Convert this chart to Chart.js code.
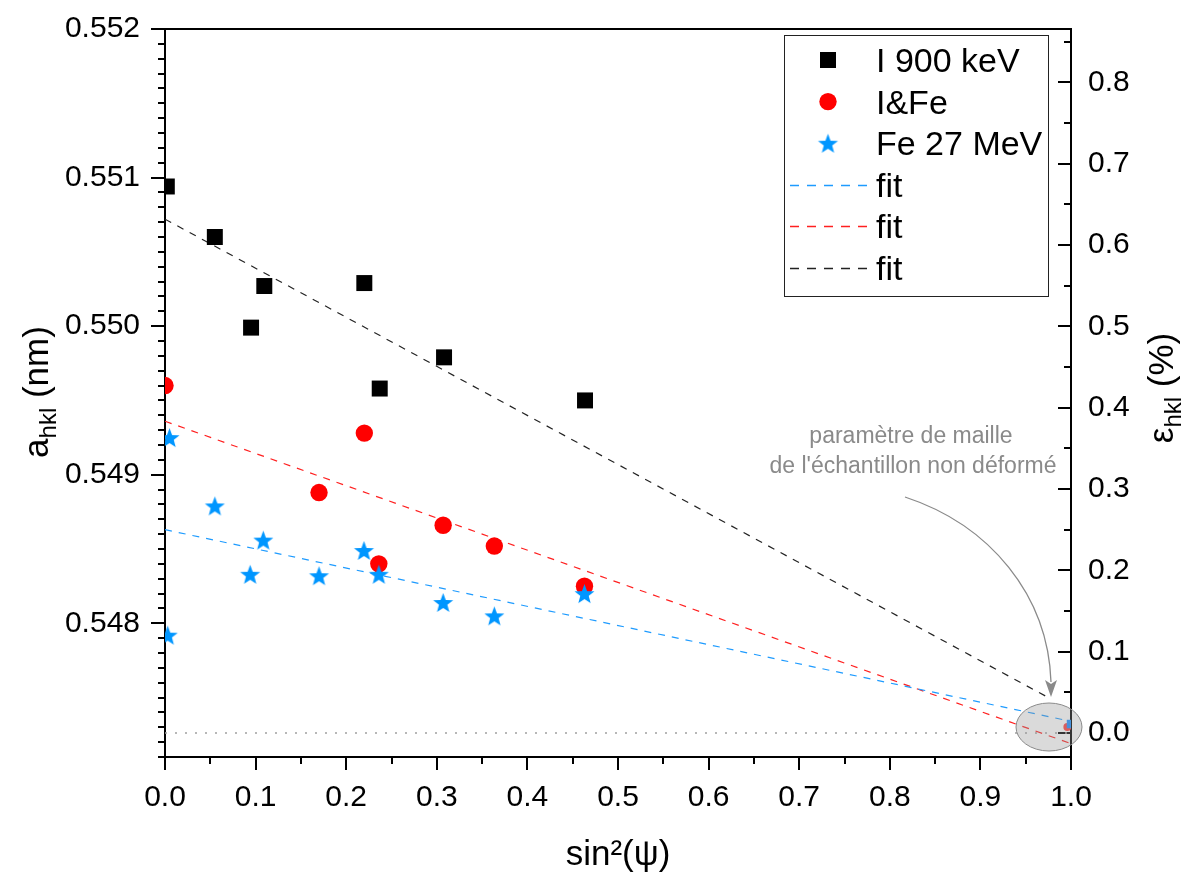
<!DOCTYPE html>
<html>
<head>
<meta charset="utf-8">
<script src="https://cdn.jsdelivr.net/npm/chart.js@4.4.0/dist/chart.umd.min.js"></script>
<style>
  html, body { margin: 0; padding: 0; background: #fff; }
  canvas { display: block; }
</style>
</head>
<body>
<canvas id="chart" width="1188" height="874"></canvas>
<script>
// donnees : sin²(psi) et a_hkl (nm)
const xI900 = [0.002, 0.055, 0.1096, 0.095, 0.22, 0.237, 0.308, 0.4636];
const aI900 = [0.55094, 0.55060, 0.55027, 0.54999, 0.55029, 0.54958, 0.54979, 0.54950];

const xIFe = [0.0, 0.22, 0.17, 0.307, 0.3635, 0.236, 0.463];
const aIFe = [0.54960, 0.54928, 0.54888, 0.54866, 0.54852, 0.54840, 0.54825];

const xFe27 = [0.005, 0.055, 0.1085, 0.094, 0.17, 0.2196, 0.236, 0.307, 0.3635, 0.463, 0.003];
const aFe27 = [0.54925, 0.54879, 0.54856, 0.54833, 0.54832, 0.54849, 0.54833, 0.54814, 0.54805, 0.54820, 0.54792];

// droites de fit (extremites)
const fitBlueX = [0, 1];
const fitBlue = [0.54863, 0.54734];
const fitRedX = [0, 1];
const fitRed = [0.54936, 0.54719];
const fitBlackX = [0, 0.975];
const fitBlack = [0.55072, 0.54750];

// parametre de maille non deforme
const a0 = 0.547262;
const refX = [0, 1];

// axes
const xTicks = [0, 0.1, 0.2, 0.3, 0.4, 0.5, 0.6, 0.7, 0.8, 0.9, 1.0];
const yTicks = [0.548, 0.549, 0.550, 0.551, 0.552];
const y2Ticks = [0, 0.1, 0.2, 0.3, 0.4, 0.5, 0.6, 0.7, 0.8];
const yMin = 0.5471, yMax = 0.552;
const y2Min = (yMin - a0) / a0 * 100;
const y2Max = (yMax - a0) / a0 * 100;

const FONT = "'Liberation Sans', Arial, sans-serif";
const BLUE = '#0096ff';

function pts(xs, ys) {
    return xs.map((x, i) => ({ x: x, y: ys[i] }));
}

// etoile a 5 branches pour le pointStyle
function makeStar(r, color) {
    const c = document.createElement('canvas');
    const s = Math.ceil(r * 2 + 2);
    c.width = s; c.height = s;
    const g = c.getContext('2d');
    g.fillStyle = color;
    g.beginPath();
    for (let i = 0; i < 10; i++) {
        const rr = i % 2 === 0 ? r : r * 0.42;
        const ang = -Math.PI / 2 + i * Math.PI / 5;
        const px = s / 2 + rr * Math.cos(ang);
        const py = s / 2 + 1 + rr * Math.sin(ang);
        if (i === 0) g.moveTo(px, py); else g.lineTo(px, py);
    }
    g.closePath();
    g.fill();
    return c;
}
const star = makeStar(10.5, BLUE);

const datasets = [
    { label: 'Fe 27 MeV', data: pts(xFe27, aFe27), pointStyle: star, backgroundColor: BLUE, borderColor: BLUE, order: 0, clip: 0 },
    { label: 'I&Fe', data: pts(xIFe, aIFe), pointStyle: 'circle', pointRadius: 8.7, backgroundColor: '#ff0000', borderColor: '#ff0000', borderWidth: 0, order: 1, clip: 0 },
    { label: 'I 900 keV', data: pts(xI900, aI900), pointStyle: 'rect', pointRadius: 11.3, backgroundColor: '#000', borderColor: '#000', borderWidth: 0, order: 2, clip: 0 },
    { label: 'fit', data: pts(fitBlueX, fitBlue), showLine: true, pointRadius: 0, borderColor: '#1e9bff', borderWidth: 1.2, borderDash: [7, 7], order: 3 },
    { label: 'fit', data: pts(fitRedX, fitRed), showLine: true, pointRadius: 0, borderColor: '#ff2020', borderWidth: 1.2, borderDash: [7, 7], order: 4 },
    { label: 'fit', data: pts(fitBlackX, fitBlack), showLine: true, pointRadius: 0, borderColor: '#222', borderWidth: 1.2, borderDash: [7, 7], order: 5 },
    { label: 'a0', data: pts(refX, [a0, a0]), showLine: true, pointRadius: 0, borderColor: '#a0a0a0', borderWidth: 1.5, borderDash: [2, 8], order: 6 },
    { label: 'a0 pts', data: [{ x: 0.996, y: a0 + 0.00004 }, { x: 1, y: a0 + 0.00006 }], pointStyle: ['circle', 'rect'], pointRadius: [4, 6], backgroundColor: ['#ff4040', '#1e90ff'], borderWidth: 0, order: 7, clip: 0 }
];

// ordre de la legende
const legendOrder = [2, 1, 0, 3, 4, 5];

function drawAxes(chart) {
    const ctx = chart.ctx;
    const a = chart.chartArea;
    const xs = chart.scales.x, ys = chart.scales.y, y2 = chart.scales.y2;
    ctx.save();
    ctx.strokeStyle = '#000';
    ctx.lineWidth = 2;
    ctx.beginPath();
    // cadre
    ctx.moveTo(a.left, a.top); ctx.lineTo(a.right, a.top);
    ctx.moveTo(a.left, a.top - 1); ctx.lineTo(a.left, a.bottom);
    ctx.lineTo(a.right, a.bottom);
    ctx.moveTo(a.right, a.top - 1); ctx.lineTo(a.right, a.bottom + 1);
    // graduations gauche
    for (let i = 0; i <= 49; i++) {
        const v = yMin + i * 0.0001;
        const y = Math.round(ys.getPixelForValue(v));
        const major = i % 10 === 9;
        ctx.moveTo(a.left - (major ? 14 : 7), y); ctx.lineTo(a.left, y);
    }
    // graduations bas
    for (let i = 0; i <= 20; i++) {
        const x = Math.round(xs.getPixelForValue(i * 0.05));
        const major = i % 2 === 0;
        ctx.moveTo(x, a.bottom); ctx.lineTo(x, a.bottom + (major ? 13 : 7));
    }
    // graduations droite (vers l'interieur)
    for (let i = 0; i <= 17; i++) {
        const y = Math.round(y2.getPixelForValue(i * 0.05));
        const major = i % 2 === 0;
        ctx.moveTo(a.right - (major ? 13 : 7), y); ctx.lineTo(a.right, y);
    }
    ctx.stroke();
    ctx.restore();
}

function drawRotTitle(ctx, cx, cy, main, sub, rest, size) {
    ctx.save();
    ctx.translate(cx, cy);
    ctx.rotate(-Math.PI / 2);
    ctx.fillStyle = '#000';
    ctx.textBaseline = 'alphabetic';
    ctx.textAlign = 'left';
    const big = size + 'px ' + FONT;
    const small = Math.round(size * 0.68) + 'px ' + FONT;
    ctx.font = big; const w1 = ctx.measureText(main).width;
    ctx.font = small; const w2 = ctx.measureText(sub).width;
    ctx.font = big; const w3 = ctx.measureText(rest).width;
    let x = -(w1 + w2 + w3) / 2;
    ctx.font = big; ctx.fillText(main, x, 0); x += w1;
    ctx.font = small; ctx.fillText(sub, x, 8); x += w2;
    ctx.font = big; ctx.fillText(rest, x, 0);
    ctx.restore();
}

const decor = {
    id: 'decor',
    beforeDatasetsDraw(chart) {
        drawAxes(chart);
    },
    afterDatasetsDraw(chart) {
        const ctx = chart.ctx;
        // ellipse grise
        ctx.save();
        ctx.beginPath();
        ctx.ellipse(1049, 727, 33, 24, 0, 0, Math.PI * 2);
        ctx.fillStyle = 'rgba(150,150,150,0.35)';
        ctx.fill();
        ctx.strokeStyle = '#8a8a8a';
        ctx.lineWidth = 1;
        ctx.stroke();
        ctx.restore();
    },
    afterDraw(chart) {
        const ctx = chart.ctx;
        ctx.save();
        // titres des axes
        ctx.fillStyle = '#000';
        ctx.font = '35px ' + FONT;
        ctx.textAlign = 'center';
        ctx.textBaseline = 'alphabetic';
        ctx.fillText('sin²(ψ)', 618, 865);
        drawRotTitle(ctx, 48, 392, 'a', 'hkl', ' (nm)', 35);
        drawRotTitle(ctx, 1173, 388, 'ε', 'hkl', ' (%)', 35);

        // annotation
        ctx.fillStyle = '#8a8a8a';
        ctx.font = '23px ' + FONT;
        ctx.textAlign = 'center';
        ctx.fillText('paramètre de maille', 911, 443);
        ctx.fillText("de l'échantillon non déformé", 913, 473);

        // fleche courbe
        ctx.strokeStyle = '#8a8a8a';
        ctx.lineWidth = 1.3;
        ctx.beginPath();
        ctx.moveTo(905, 497);
        ctx.bezierCurveTo(990, 525, 1048, 595, 1051, 682);
        ctx.stroke();
        ctx.fillStyle = '#8a8a8a';
        ctx.beginPath();
        ctx.moveTo(1051, 697);
        ctx.lineTo(1045, 680);
        ctx.lineTo(1051, 684);
        ctx.lineTo(1057, 680);
        ctx.closePath();
        ctx.fill();

        // legende
        ctx.fillStyle = '#fff';
        ctx.fillRect(784.5, 35.5, 264, 261);
        ctx.strokeStyle = '#222';
        ctx.lineWidth = 1;
        ctx.strokeRect(784.5, 35.5, 264, 261);
        ctx.font = '34px ' + FONT;
        ctx.textAlign = 'left';
        ctx.textBaseline = 'alphabetic';
        legendOrder.forEach((di, k) => {
            const ds = chart.data.datasets[di];
            const cy = 60 + k * 41.6;
            if (ds.showLine) {
                ctx.save();
                ctx.strokeStyle = ds.borderColor;
                ctx.lineWidth = 1.3;
                ctx.setLineDash([9, 8]);
                ctx.beginPath();
                ctx.moveTo(790, Math.round(cy) + 0.5);
                ctx.lineTo(867, Math.round(cy) + 0.5);
                ctx.stroke();
                ctx.restore();
            } else if (ds.pointStyle === 'rect') {
                ctx.fillStyle = ds.backgroundColor;
                ctx.fillRect(820, cy - 8, 16, 16);
            } else if (ds.pointStyle === 'circle') {
                ctx.fillStyle = ds.backgroundColor;
                ctx.beginPath();
                ctx.arc(828, cy, 8.7, 0, Math.PI * 2);
                ctx.fill();
            } else {
                ctx.drawImage(ds.pointStyle, 828 - ds.pointStyle.width / 2, cy - ds.pointStyle.height / 2);
            }
            ctx.fillStyle = '#000';
            ctx.fillText(ds.label, 876, cy + 12);
        });
        ctx.restore();
    }
};

const tickFont = { family: FONT, size: 30 };

// largeur / hauteur fixes des axes, sans marge supplementaire
function fixBox(w, h) {
    return s => {
        if (w) s.width = w;
        if (h) s.height = h;
        s.paddingTop = 0; s.paddingBottom = 0;
        s.paddingLeft = 0; s.paddingRight = 0;
    };
}

new Chart(document.getElementById('chart'), {
    type: 'scatter',
    data: { datasets: datasets },
    options: {
        responsive: false,
        animation: false,
        layout: { padding: { top: 29, left: 0, right: 0, bottom: 0 } },
        plugins: { legend: { display: false }, tooltip: { enabled: false } },
        scales: {
            x: {
                type: 'linear', min: 0, max: 1,
                afterBuildTicks: s => { s.ticks = xTicks.map(v => ({ value: v })); },
                afterFit: fixBox(0, 117),
                grid: { display: false, drawTicks: false },
                border: { display: false },
                ticks: { padding: 23, font: tickFont, color: '#000', maxRotation: 0, autoSkip: false, callback: v => v.toFixed(1) }
            },
            y: {
                type: 'linear', position: 'left', min: yMin, max: yMax,
                afterBuildTicks: s => { s.ticks = yTicks.map(v => ({ value: v })); },
                afterFit: fixBox(165, 0),
                grid: { display: false, drawTicks: false },
                border: { display: false },
                ticks: { padding: 25, font: tickFont, color: '#000', autoSkip: false, callback: v => v.toFixed(3) }
            },
            y2: {
                type: 'linear', position: 'right', min: y2Min, max: y2Max,
                afterBuildTicks: s => { s.ticks = y2Ticks.map(v => ({ value: v })); },
                afterFit: fixBox(117, 0),
                grid: { display: false, drawTicks: false },
                border: { display: false },
                ticks: { padding: 17, font: tickFont, color: '#000', autoSkip: false, callback: v => v.toFixed(1) }
            }
        }
    },
    plugins: [decor]
});
</script>
</body>
</html>
